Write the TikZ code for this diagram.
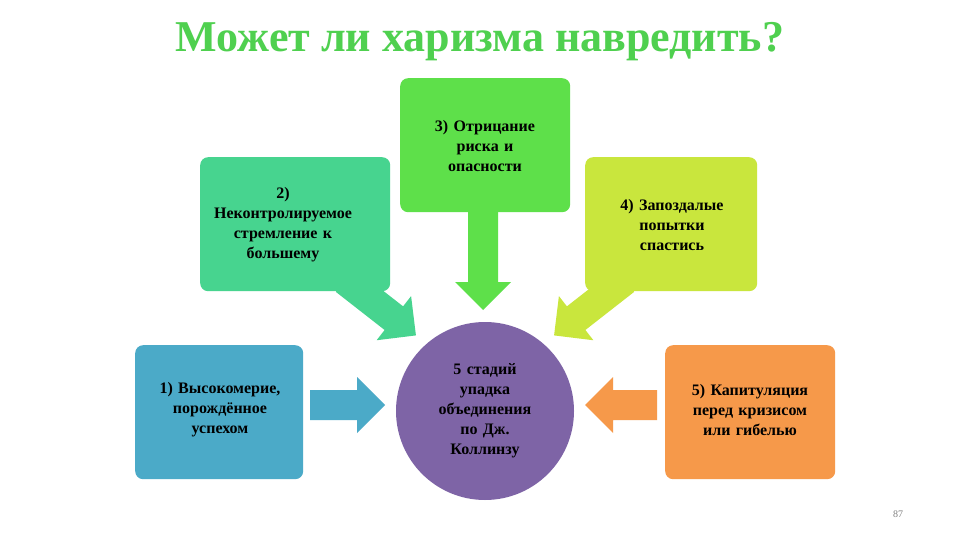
\documentclass[tikz,border=0pt]{standalone}
\usepackage{fontspec}
\setmainfont{Liberation Serif}
\definecolor{cA}{HTML}{4BAAC8}
\definecolor{cB}{HTML}{47D48F}
\definecolor{cC}{HTML}{5EE04A}
\definecolor{cD}{HTML}{C9E63D}
\definecolor{cE}{HTML}{F6994A}
\definecolor{cP}{HTML}{7E64A6}
\definecolor{ttl}{HTML}{4FD04F}
\newcommand{\blockarrow}[5]{% x,y (tail center), angle, length, color
  \begin{scope}[shift={(#1,#2)},rotate=#3]
  \fill[#5] (0,-15) -- (#4-28,-15) -- (#4-28,-28) -- (#4,0) -- (#4-28,28) -- (#4-28,15) -- (0,15) -- cycle;
  \end{scope}}
\begin{document}
\begin{tikzpicture}[x=1pt,y=-1pt,
  box/.style={rounded corners=8pt,minimum width=170pt,minimum height=134pt,anchor=north west,inner sep=0pt},
  txt/.style={font=\bfseries\fontsize{16}{20}\selectfont,align=center,text width=170pt}]
\useasboundingbox (0,0) rectangle (960,540);
\fill[white] (0,0) rectangle (960,540);
\node[font=\bfseries\fontsize{44}{50}\selectfont,text=ttl] (title) at (480,42) {Может ли харизма навредить?};
\blockarrow{483}{212}{-90}{98}{cC}
\blockarrow{345}{280}{-38}{90}{cB}
\blockarrow{625}{280}{-142}{90}{cD}
\node[box,fill=cB,minimum width=190pt] (b2) at (200,157) {};
\node[box,fill=cC] (b3) at (400,78) {};
\node[box,fill=cD,minimum width=172pt] (b4) at (585,157) {};
\node[box,fill=cA,minimum width=168pt] (b1) at (135,345) {};
\node[box,fill=cE] (b5) at (665,345) {};
\node[circle,fill=cP,minimum size=178pt,inner sep=0pt] (c) at (485,411) {};
\node[txt] (t2) at (283,225) {2)\\Неконтролируемое\\стремление к\\большему};
\node[txt] (t3) at (485,146) {3) Отрицание\\риска и\\опасности};
\node[txt] (t4) at (672,225) {4) Запоздалые\\попытки\\спастись};
\node[txt] (t1) at (220,410) {1) Высокомерие,\\порождённое\\успехом};
\node[txt] (t5) at (750,410) {5) Капитуляция\\перед кризисом\\или гибелью};
\node[txt] (tc) at (485,411) {5 стадий\\упадка\\объединения\\по Дж.\\Коллинзу};
\blockarrow{310}{405}{0}{75}{cA}
\blockarrow{657}{405}{180}{72}{cE}
\node[font=\fontsize{10}{12}\selectfont,text=gray] (pn) at (898,514) {87};
\end{tikzpicture}
\end{document}
